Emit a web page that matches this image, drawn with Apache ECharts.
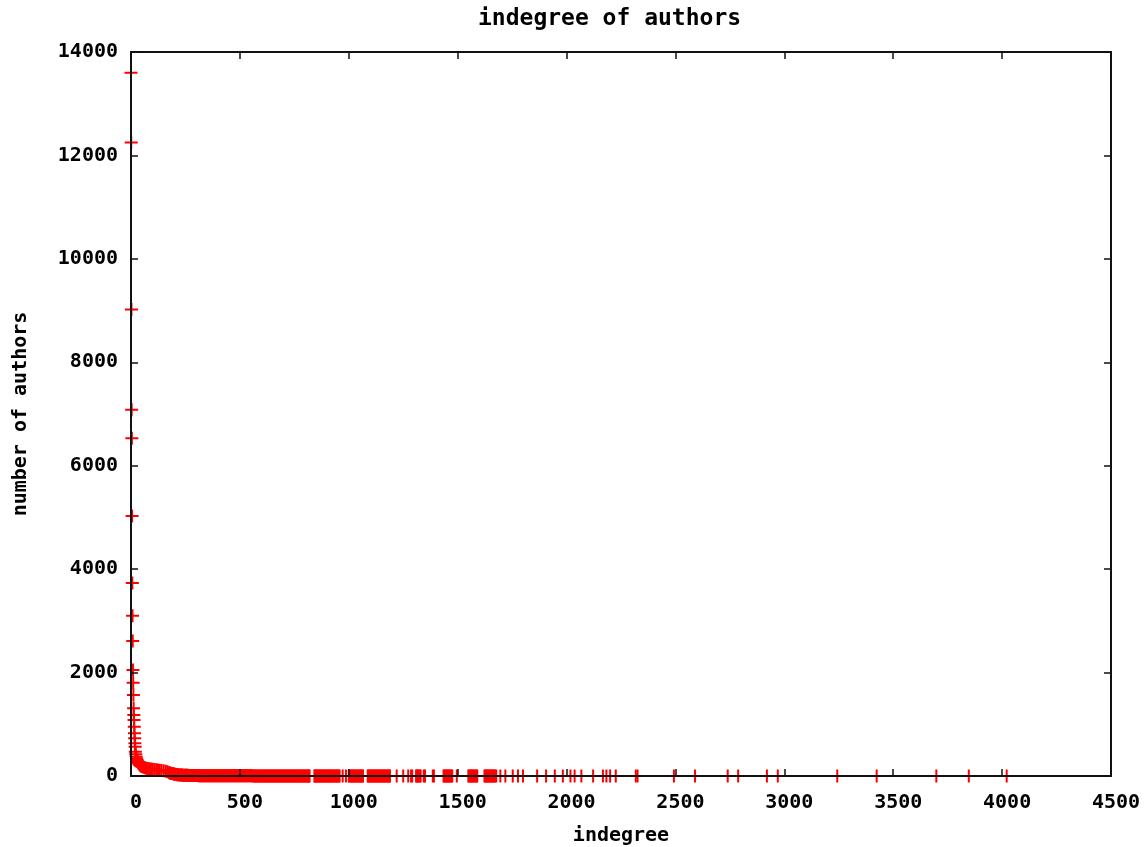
<!DOCTYPE html>
<html>
<head>
<meta charset="utf-8">
<title>indegree of authors</title>
<script src="https://cdn.jsdelivr.net/npm/echarts@6/dist/echarts.min.js"></script>
<style>
  html, body { margin: 0; padding: 0; background: #fff; }
  #chart { width: 1148px; height: 847px; }
</style>
</head>
<body>
<div id="chart"></div>
<script>
// indegree -> number of authors
// steep head close to x = 0
var headIndegree = [0,1,2,3,4,5,6,7,8,9,10,11,12,13,14,15,16,17,18,19,20,22,24,26,28,30,33,36,40,44,48,53,58,64,70,77,84,92,100,108,116,124,132,140,150,160,168];
var headAuthors = [13600,12250,9020,7080,6530,5030,3730,3100,2610,2050,1805,1566,1309,1180,1083,954,825,729,632,567,470,420,374,340,309,280,255,235,215,200,188,178,168,160,152,146,140,135,130,126,122,118,112,106,100,92,84];

// knee where the curve flattens out
var kneeIndegree = [175,179,182,186,189,193,197,200,204,208,212,215,219,223,227,231,235,238,242,246,250,254,257,261,265,269,273,277,280,284,288,292,296,299,303,307];
var kneeAuthors = [62,58,54,50,46,42,38,35,32,29,26,24,22,20,19,18,17,16,15,15,14,14,13,13,12,12,11,11,11,10,10,10,9,9,9,9];

// long flat tail, grouped by the (tiny) number of authors
var indegreeWithSix = [311,315,318,322,326,330,334,337,341,345,349,353,356,360,364,368,372,376,379,383,387,391,395,398];
var indegreeWithFour = [402,406,410,414,417,421,425,429,433,436,440,444,448,452,455,459,463,467,471,475,478,482,486,490,494,497,501,505,509,513,516,520,524,528,532,535,539,543,547,551,554,558];
var indegreeWithTwo = [562,566,570,574,577,581,585,589,593,596,600,604,608,612,615,619,623,627,631,634,638,642,646,650,653,657,661,665,669,673,676,680,684,688,692,695,699,703,707,711,714,718,722,726,730,733,737,741,745,749,752,756,760,764,768,772,775,779,783,787,791,794,798,802,806,810,813,817,820,842,845,849,852,856,860,864,868,872,876,879,883,887,891,895,899,903,907,910,914,918,922,926,930,934,938,942,946,950,954,958];
var indegreeWithOne = [972,987,1000,1003,1007,1011,1015,1019,1023,1027,1031,1035,1039,1043,1047,1051,1055,1059,1063,1065,1087,1090,1094,1098,1102,1106,1110,1114,1118,1122,1126,1130,1134,1138,1142,1146,1150,1154,1158,1162,1166,1170,1174,1178,1182,1186,1189,1220,1250,1273,1286,1291,1309,1313,1317,1321,1326,1330,1344,1350,1386,1391,1435,1439,1443,1447,1451,1455,1459,1463,1467,1471,1475,1496,1549,1553,1557,1561,1565,1569,1573,1577,1581,1586,1590,1623,1627,1631,1635,1639,1643,1647,1651,1655,1659,1663,1667,1671,1677,1696,1719,1753,1777,1800,1865,1906,1946,1983,2018,2037,2068,2122,2167,2183,2200,2226,2318,2326,2493,2590,2740,2788,2920,2970,3243,3424,3698,3847,4021];

var xTicks = [0,500,1000,1500,2000,2500,3000,3500,4000,4500];
var yTicks = [0,2000,4000,6000,8000,10000,12000,14000];

var points = [];
function addPoints(xs, ys) {
  for (var i = 0; i < xs.length; i++) points.push([xs[i], ys[i]]);
}
function addCount(xs, n) {
  for (var i = 0; i < xs.length; i++) points.push([xs[i], n]);
}
addPoints(headIndegree, headAuthors);
addPoints(kneeIndegree, kneeAuthors);
addCount(indegreeWithSix, 6);
addCount(indegreeWithFour, 4);
addCount(indegreeWithTwo, 2);
addCount(indegreeWithOne, 1);

var fontFam = 'DejaVu Sans Mono';
var txt = { fontFamily: fontFam, fontWeight: 'bold', fontSize: 20, color: '#000' };
var plusPath = 'path://M0,5.5H13V7.5H0Z M5.5,0H7.5V13H5.5Z';
function plain(v) { return String(v); }

function xAx(pos, showLabel) {
  return {
    type: 'value', position: pos, z: 10,
    min: xTicks[0], max: xTicks[xTicks.length - 1], interval: xTicks[1] - xTicks[0],
    name: showLabel ? 'indegree' : '', nameLocation: 'middle', nameGap: 50,
    nameTextStyle: txt,
    axisLine: { show: true, onZero: false, lineStyle: { color: '#111', width: 2 } },
    axisTick: { show: true, inside: true, length: 7, lineStyle: { color: '#111', width: 1.5 } },
    axisLabel: Object.assign({ show: showLabel, margin: 17, padding: [0, 0, 0, 10], formatter: plain }, txt),
    splitLine: { show: false }
  };
}
function yAx(pos, showLabel) {
  return {
    type: 'value', position: pos, z: 10,
    min: yTicks[0], max: yTicks[yTicks.length - 1], interval: yTicks[1] - yTicks[0],
    name: showLabel ? 'number of authors' : '', nameLocation: 'middle', nameGap: 100,
    nameTextStyle: txt,
    axisLine: { show: true, onZero: false, lineStyle: { color: '#111', width: 2 } },
    axisTick: { show: true, inside: true, length: 7, lineStyle: { color: '#111', width: 1.5 } },
    axisLabel: Object.assign({ show: showLabel, margin: 13, padding: [5, 0, 0, 0], formatter: plain }, txt),
    splitLine: { show: false }
  };
}

var chart = echarts.init(document.getElementById('chart'));
chart.setOption({
  animation: false,
  backgroundColor: '#fff',
  title: {
    text: 'indegree of authors',
    left: 473, top: 3,
    textStyle: { fontFamily: fontFam, fontWeight: 'bold', fontSize: 23, color: '#000' }
  },
  grid: { left: 131, right: 37, top: 52, bottom: 71, outerBoundsMode: 'none', containLabel: false },
  xAxis: [xAx('bottom', true), xAx('top', false)],
  yAxis: [yAx('left', true), yAx('right', false)],
  series: [{
    type: 'scatter',
    data: points,
    symbol: plusPath,
    symbolSize: 13,
    clip: false,
    silent: true,
    itemStyle: { color: '#ff0000', opacity: 1 }
  }]
});
</script>
</body>
</html>
